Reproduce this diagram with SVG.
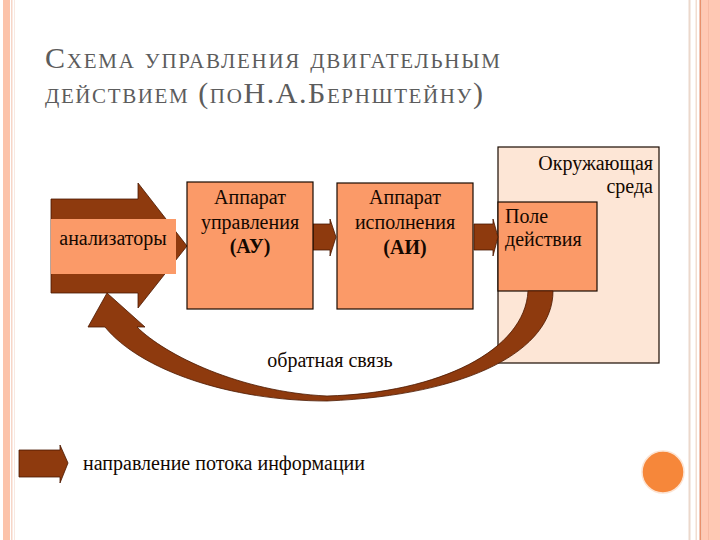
<svg xmlns="http://www.w3.org/2000/svg" width="720" height="540" viewBox="0 0 720 540">
<style>
  .t{font-family:'Liberation Serif','Times New Roman',Tinos,'Noto Serif','DejaVu Serif',FreeSerif,serif;font-size:20px;fill:#140800}
  .b{font-weight:bold}
  .box{fill:#FB9A68;stroke:#1a0a00;stroke-width:1.2}
  .arr{fill:#8E3A0E;stroke:#4a1800;stroke-width:0.8}
  .title{font-family:'Liberation Serif','Times New Roman',Tinos,'Noto Serif','DejaVu Serif',FreeSerif,serif;font-size:30px;font-variant:small-caps;fill:#5c5c5c}
</style>
<rect width="720" height="540" fill="#ffffff"/>
<g id="borders">
  <rect x="3" y="0" width="7" height="540" fill="#FCC3AA"/>
  <rect x="11" y="0" width="1.5" height="540" fill="#F6D6C8"/>
  <rect x="14" y="0" width="1" height="540" fill="#F9E8E0"/>
  <rect x="688.5" y="0" width="2" height="540" fill="#EBD8CC"/>
  <rect x="695.5" y="0" width="1.5" height="540" fill="#F2DDD0"/>
  <rect x="699.5" y="0" width="2" height="540" fill="#E9906C"/>
  <rect x="702" y="0" width="18" height="540" fill="#FFC8B4"/>
  <rect x="708" y="0" width="1" height="540" fill="#F6B9A4"/>
</g>
<g id="title">
  <text class="title" x="45" y="68" textLength="455" lengthAdjust="spacing">Схема управления двигательным</text>
  <text class="title" x="45" y="103" textLength="438" lengthAdjust="spacing">действием (поН.А.Бернштейну)</text>
</g>
<g id="env">
  <rect x="498" y="147" width="161" height="216" fill="#FDE6D6" stroke="#1a0a00" stroke-width="1.2"/>
  <text class="t" x="653" y="170" text-anchor="end">Окружающая</text>
  <text class="t" x="653" y="193" text-anchor="end">среда</text>
</g>
<g id="field">
  <rect class="box" x="498" y="202" width="99" height="89"/>
  <text class="t" x="505" y="223">Поле</text>
  <text class="t" x="505" y="246">действия</text>
</g>
<g id="connectors">
  <path class="arr" d="M313,224 H330 V219 L336,237 L330,256 V250 H313 Z"/>
  <path class="arr" d="M474,224 H493 V219 L498,237 L493,256 V250 H474 Z"/>
  <path class="arr" d="M553,291 C553,350 470,395 327,401 C230,401 140,370 105,327 L88,327 L107,293 L145,327 L137,327 C165,355 240,392 327,396 C440,393 525,350 528,291 Z"/>
</g>
<g id="analyzers">
  <path class="arr" d="M51,199 H138 V183 L187,246 L138,308 V293 H51 Z"/>
  <rect x="51" y="219" width="125" height="55" fill="#FB9A68"/>
  <text class="t" x="113" y="245" text-anchor="middle">анализаторы</text>
</g>
<g id="au">
  <rect class="box" x="187" y="182" width="126" height="127"/>
  <text class="t" x="250" y="204" text-anchor="middle">Аппарат</text>
  <text class="t" x="250" y="229" text-anchor="middle">управления</text>
  <text class="t b" x="250" y="253" text-anchor="middle">(АУ)</text>
</g>
<g id="ai">
  <rect class="box" x="337" y="183" width="136" height="126"/>
  <text class="t" x="405" y="204" text-anchor="middle">Аппарат</text>
  <text class="t" x="405" y="229" text-anchor="middle">исполнения</text>
  <text class="t b" x="405" y="254" text-anchor="middle">(АИ)</text>
</g>
<g id="feedback-label">
  <text class="t" x="330" y="367" text-anchor="middle">обратная связь</text>
</g>
<g id="legend">
  <path class="arr" d="M19,450 H60 V445 L68,463 L60,483 V477 H19 Z"/>
  <text class="t" x="83" y="470">направление потока информации</text>
</g>
<circle cx="663" cy="472" r="21" fill="#F6873A" stroke="#FCE3D2" stroke-width="1.5"/>
</svg>
